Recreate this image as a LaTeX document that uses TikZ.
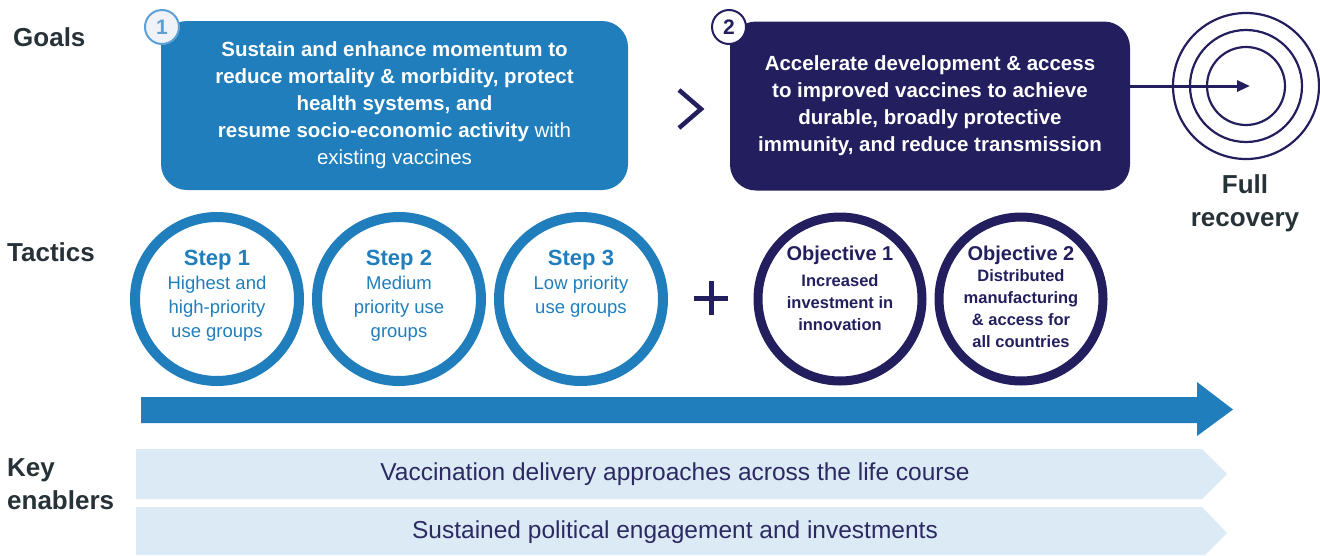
\documentclass[tikz,border=0pt]{standalone}
\usepackage{fontspec}
\setmainfont{Liberation Sans}
\usetikzlibrary{arrows.meta}
\definecolor{cblue}{HTML}{1F7EBB}
\definecolor{cnavy}{HTML}{231F5E}
\definecolor{clight}{HTML}{DCEAF6}
\definecolor{clabel}{HTML}{263238}
\definecolor{cbadge}{HTML}{5DA0D6}
\definecolor{cbadgefill}{HTML}{EFF2F6}
\definecolor{ctext}{HTML}{2C2A62}
\begin{document}
\begin{tikzpicture}[x=1pt,y=-1pt,
  rowlabel/.style={font=\fontsize{26}{33}\selectfont\bfseries, text=clabel, anchor=west, inner sep=0pt, align=left},
  goalbox/.style={rounded corners=26pt, minimum width=467pt, minimum height=169pt, inner sep=0pt, text=white, align=center, font=\fontsize{20.5}{27}\selectfont},
  badge/.style={circle, minimum size=34pt, inner sep=0pt, line width=2pt, font=\fontsize{21}{21}\selectfont\bfseries},
  stepcirc/.style={circle, draw=cblue, line width=10pt, minimum size=164pt, inner sep=0pt},
  objcirc/.style={circle, draw=cnavy, line width=9pt, minimum size=164pt, inner sep=0pt},
  steptitle/.style={anchor=base, inner sep=0pt, text=cblue, font=\fontsize{22}{22}\selectfont\bfseries},
  stepbody/.style={anchor=north, inner sep=0pt, text=cblue, align=center, font=\fontsize{18.5}{24}\selectfont},
  objtitle/.style={anchor=base, inner sep=0pt, text=cnavy, font=\fontsize{20}{20}\selectfont\bfseries},
  objbody/.style={anchor=north, inner sep=0pt, text=cnavy, align=center, font=\fontsize{16.5}{22}\selectfont\bfseries},
  ring/.style={circle, draw=cnavy, line width=2.2pt, inner sep=0pt},
  enabler/.style={fill=clight},
  enablertext/.style={inner sep=0pt, text=ctext, font=\fontsize{24.5}{24.5}\selectfont}
]
\useasboundingbox (0,0) rectangle (1320,555);

% row labels
\node[rowlabel] (lgoals) at (13,37) {Goals};
\node[rowlabel] (ltactics) at (7,252) {Tactics};
\node[rowlabel] (lkey) at (7,484) {Key\\enablers};

% goal boxes
\node[goalbox, fill=cblue] (g1) at (394.5,105.5) {\textbf{Sustain and enhance momentum to}\\\textbf{reduce mortality \& morbidity, protect}\\\textbf{health systems, and}\\\textbf{resume socio-economic activity} with\\existing vaccines};
\node[goalbox, fill=cnavy, minimum width=400pt, font=\fontsize{20.5}{27}\selectfont\bfseries] (g2) at (930,106) {Accelerate development \& access\\to improved vaccines to achieve\\durable, broadly protective\\immunity, and reduce transmission};

% badges
\node[badge, fill=cbadgefill, draw=cbadge, text=cbadge] (b1) at (162,27) {1};
\node[badge, fill=white, draw=cnavy, text=cnavy] (b2) at (729,27) {2};

% chevron between goals
\draw[cnavy, line width=4.5pt] (679,90) -- (701,109) -- (679,128);

% target
\coordinate (tc) at (1246,86);
\node[ring, minimum size=146pt] (t1) at (tc) {};
\node[ring, minimum size=112pt] (t2) at (tc) {};
\node[ring, minimum size=78pt] (t3) at (tc) {};
\draw[cnavy, line width=3pt, -{Triangle[length=13pt,width=11pt]}] (g2.east |- tc) -- ([xshift=4pt]tc);
\node[font=\fontsize{26}{33}\selectfont\bfseries, text=clabel, align=center, inner sep=0pt] (full) at (1245,203) {Full\\recovery};

% tactics circles
\node[stepcirc] (s1) at (217,299) {};
\node[stepcirc] (s2) at (399,299) {};
\node[stepcirc] (s3) at (581,299) {};
\node[steptitle] (s1t) at (217,265) {Step 1};
\node[steptitle] (s2t) at (399,265) {Step 2};
\node[steptitle] (s3t) at (581,265) {Step 3};
\node[stepbody] (s1b) at (217,276) {Highest and\\high-priority\\use groups};
\node[stepbody] (s2b) at (399,276) {Medium\\priority use\\groups};
\node[stepbody] (s3b) at (581,276) {Low priority\\use groups};

% plus
\coordinate (pc) at (711,298);
\draw[cnavy, line width=5pt] ([xshift=-17pt]pc) -- ([xshift=17pt]pc);
\draw[cnavy, line width=5pt] ([yshift=-17pt]pc) -- ([yshift=17pt]pc);

\node[objcirc] (o1) at (840,299) {};
\node[objcirc] (o2) at (1021,299) {};
\node[objtitle] (o1t) at (840,260) {Objective 1};
\node[objtitle] (o2t) at (1021,260) {Objective 2};
\node[objbody] (o1b) at (840,274) {Increased\\investment in\\innovation};
\node[objbody] (o2b) at (1021,269) {Distributed\\manufacturing\\\& access for\\all countries};

% big arrow
\fill[cblue] (141,397) -- (1197,397) -- (1197,382) -- (1233,409.5) -- (1197,436) -- (1197,423) -- (141,423) -- cycle;

% enablers
\fill[enabler] (136,449) -- (1202,449) -- (1227,474) -- (1202,499) -- (136,499) -- cycle;
\fill[enabler] (136,507) -- (1202,507) -- (1227,533) -- (1205,555) -- (136,555) -- cycle;
\node[enablertext] (e1) at (675,474) {Vaccination delivery approaches across the life course};
\node[enablertext] (e2) at (675,532) {Sustained political engagement and investments};
\end{tikzpicture}
\end{document}
